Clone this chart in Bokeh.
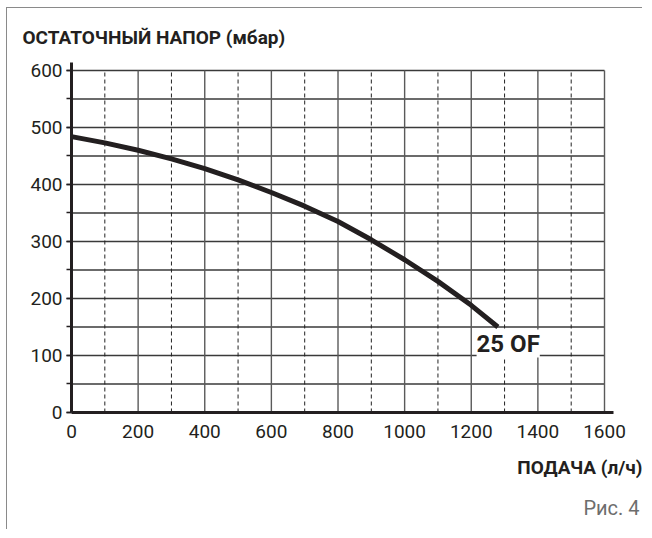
from bokeh.plotting import figure
from bokeh.models import SingleIntervalTicker, FixedTicker, Label, Range1d, Title
from bokeh.embed import file_html
from bokeh.resources import INLINE

# ---- data ----
flow = [0, 100, 200, 300, 400, 500, 600, 700, 800, 900, 1000, 1100, 1200, 1280]
head = [484, 473, 460, 445, 428, 408, 386, 362, 335, 303, 268, 230, 188, 150]
x_ticks = [0, 200, 400, 600, 800, 1000, 1200, 1400, 1600]
x_dashed = [100, 300, 500, 700, 900, 1100, 1300, 1500]
y_grid = [50, 100, 150, 200, 250, 300, 350, 400, 450, 500, 550, 600]
series_name = "25 OF"
y_title = "ОСТАТОЧНЫЙ НАПОР (мбар)"
x_title = "ПОДАЧА (л/ч)"
fig_caption = "Рис. 4"

FONT = "Roboto"
INK = "#231f20"

p = figure(width=636, height=522, output_backend="svg", toolbar_location=None,
           x_range=Range1d(0, 1627), y_range=Range1d(0, 614),
           min_border_left=64, min_border_right=30, min_border_top=54,
           min_border_bottom=118, outline_line_color=None,
           styles={"margin-left": "6px", "margin-top": "7px",
                   "border-left": "1px solid #8a8a8a", "border-top": "1px solid #8a8a8a"})
p.xgrid.visible = False
p.ygrid.visible = False

p.title.text = y_title
p.title.align = "left"
p.title.vertical_align = "bottom"
p.title.offset = -49
p.title.standoff = 28
p.title.text_font = FONT
p.title.text_font_style = "bold"
p.title.text_font_size = "19px"
p.title.text_color = INK

x_min, x_max = x_ticks[0], x_ticks[-1]
y_max = y_grid[-1]

# grid: horizontal solid lines
p.segment(x0=[x_min] * len(y_grid), x1=[x_max] * len(y_grid), y0=y_grid, y1=y_grid,
          line_color="#3a3a3a", line_width=1.3)
# vertical solid lines
solid_v = x_ticks[1:]
p.segment(x0=solid_v, x1=solid_v, y0=[0] * len(solid_v), y1=[y_max] * len(solid_v),
          line_color="#5a5a5a", line_width=1.4)
# vertical dashed lines
p.segment(x0=x_dashed, x1=x_dashed, y0=[0] * len(x_dashed), y1=[y_max] * len(x_dashed),
          line_color="#222222", line_width=1, line_dash="4 3")

# curve
p.line(flow, head, line_color=INK, line_width=5, line_join="round")

# axes
p.xaxis.ticker = FixedTicker(ticks=x_ticks)
p.xaxis.axis_line_width = 3
p.xaxis.axis_line_color = INK
p.xaxis.major_tick_out = 0
p.xaxis.major_tick_in = 0
p.xaxis.minor_tick_out = 0
p.xaxis.minor_tick_in = 0
p.xaxis.major_label_standoff = 12
p.xaxis.major_label_text_font = FONT
p.xaxis.major_label_text_font_size = "19px"
p.xaxis.major_label_text_color = INK

p.yaxis.ticker = SingleIntervalTicker(interval=100, num_minor_ticks=2)
p.yaxis.axis_line_width = 3
p.yaxis.axis_line_color = INK
p.yaxis.major_tick_out = 5
p.yaxis.major_tick_in = 0
p.yaxis.minor_tick_out = 5
p.yaxis.minor_tick_in = 0
p.yaxis.major_tick_line_width = 1.5
p.yaxis.minor_tick_line_width = 1.5
p.yaxis.major_tick_line_color = INK
p.yaxis.minor_tick_line_color = INK
p.yaxis.major_label_standoff = 4
p.yaxis.major_label_text_font = FONT
p.yaxis.major_label_text_font_size = "19px"
p.yaxis.major_label_text_color = INK

# texts below the plot
p.add_layout(Title(text=x_title, align="right", offset=-29, standoff=27,
                   text_font=FONT, text_font_style="bold", text_font_size="19px",
                   text_color=INK), "below")
p.add_layout(Title(text=fig_caption, align="right", offset=-26, standoff=3,
                   text_font=FONT, text_font_style="normal", text_font_size="20px",
                   text_color="#6d6d6d"), "below")

p.add_layout(Label(x=flow[-1] - 64, y=121, text=series_name, text_font=FONT,
                   text_font_style="bold", text_font_size="24px",
                   text_color=INK, text_baseline="alphabetic",
                   background_fill_color="white", background_fill_alpha=1.0))

open("out.html", "w").write(file_html(p, INLINE))
